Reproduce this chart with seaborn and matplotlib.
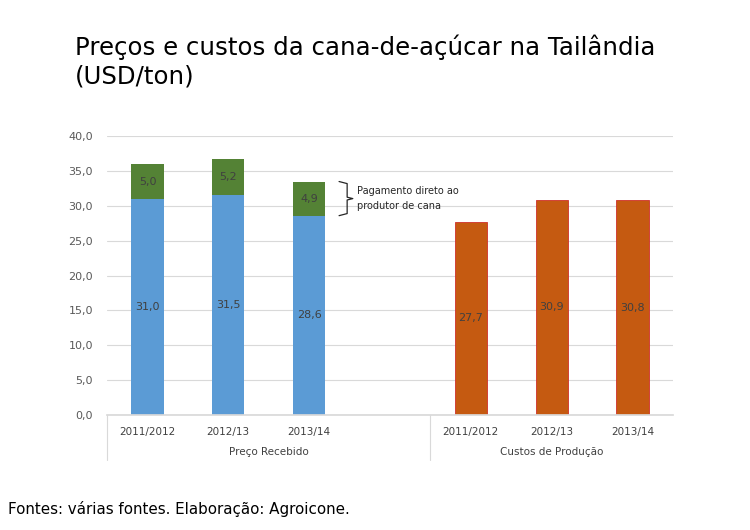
import numpy as np
import pandas as pd
import matplotlib
matplotlib.use("Agg")
import matplotlib.pyplot as plt
import matplotlib.transforms as mtransforms
import seaborn as sns

# data
anos = ["2011/2012", "2012/13", "2013/14"]
grupos = ["Preço Recebido", "Custos de Produção"]
preco_base = [31.0, 31.5, 28.6]
pagamento_direto = [5.0, 5.2, 4.9]
custos = [27.7, 30.9, 30.8]
y_ticks = [0, 5, 10, 15, 20, 25, 30, 35, 40]

azul = "#5B9BD5"
verde = "#548235"
laranja = "#C55A11"
texto = "#404040"

sns.set_theme(style="white")
plt.rcParams["font.family"] = ["DejaVu Sans"]

# category keys, with an empty slot after the first group
k_preco = [f"p_{a}" for a in anos]
k_custo = [f"c_{a}" for a in anos]
order = k_preco + ["gap"] + k_custo

total = [b + d for b, d in zip(preco_base, pagamento_direto)]
df_total = pd.DataFrame({"key": k_preco, "valor": total})
df_base = pd.DataFrame({"key": k_preco, "valor": preco_base})
df_custo = pd.DataFrame({"key": k_custo, "valor": custos})

fig = plt.figure(figsize=(7.5, 5.3), dpi=100)
ax = fig.add_axes([0.1427, 0.217, 0.7546, 0.526])

sns.barplot(data=df_total, x="key", y="valor", order=order, color=verde,
            saturation=1, width=0.4, errorbar=None, ax=ax, linewidth=0)
sns.barplot(data=df_base, x="key", y="valor", order=order, color=azul,
            saturation=1, width=0.4, errorbar=None, ax=ax, linewidth=0)
sns.barplot(data=df_custo, x="key", y="valor", order=order, color=laranja,
            saturation=1, width=0.4, errorbar=None, ax=ax,
            edgecolor="#D0302A", linewidth=0.6)

# value labels
for i, (b, d) in enumerate(zip(preco_base, pagamento_direto)):
    ax.text(i, b / 2, f"{b:.1f}".replace(".", ","), ha="center", va="center",
            fontsize=8, color=texto)
    ax.text(i, b + d / 2, f"{d:.1f}".replace(".", ","), ha="center", va="center",
            fontsize=8, color=texto)
for i, c in enumerate(custos):
    ax.text(order.index(k_custo[i]), c / 2, f"{c:.1f}".replace(".", ","),
            ha="center", va="center", fontsize=8, color=texto)

# axes styling
ax.set_ylim(0, 40)
ax.set_xlim(-0.5, len(order) - 0.5)
ax.set_yticks(y_ticks)
ax.set_yticklabels([f"{v:.1f}".replace(".", ",") for v in y_ticks],
                   fontsize=8, color="#595959")
ax.tick_params(axis="y", length=0, pad=10)
ax.yaxis.grid(True, color="#D9D9D9", linewidth=0.8)
ax.set_axisbelow(True)
for s in ["top", "right", "left"]:
    ax.spines[s].set_visible(False)
ax.spines["bottom"].set_color("#D9D9D9")
ax.set_xticks([])
ax.set_xlabel("")
ax.set_ylabel("")

# multi-level category axis
trans = mtransforms.blended_transform_factory(ax.transData, ax.transAxes)
for i, a in enumerate(anos):
    ax.text(order.index(k_preco[i]), -0.061, a, transform=trans, ha="center",
            va="center", fontsize=7.5, color=texto)
    ax.text(order.index(k_custo[i]), -0.061, a, transform=trans, ha="center",
            va="center", fontsize=7.5, color=texto)
sep = order.index("gap") + 0.5
ax.text((-0.5 + sep) / 2, -0.133, grupos[0], transform=trans, ha="center",
        va="center", fontsize=7.5, color=texto)
ax.text((sep + len(order) - 0.5) / 2, -0.133, grupos[1], transform=trans,
        ha="center", va="center", fontsize=7.5, color=texto)
for xs in [-0.5, sep]:
    ax.plot([xs, xs], [0, -0.161], transform=trans, color="#D9D9D9",
            lw=0.8, clip_on=False)

# bracket for direct payment on the last price bar
lo, hi = preco_base[2], total[2]
mid = (lo + hi) / 2
x0, x1, x2 = 2.37, 2.47, 2.54
bx = [x0, x1, x1, x2, x1, x1, x0]
by = [hi, hi - 0.3, mid + 0.2, mid, mid - 0.2, lo + 0.3, lo]
ax.plot(bx, by, color="#262626", lw=0.9, clip_on=False)
ax.text(2.59, mid, "Pagamento direto ao\nprodutor de cana", ha="left",
        va="center", fontsize=7, color="#262626", linespacing=1.6)

fig.text(0.1, 0.935, "Preços e custos da cana-de-açúcar na Tailândia\n(USD/ton)",
         ha="left", va="top", fontsize=17.6, color="black", linespacing=1.25)
fig.text(0.011, 0.04, "Fontes: várias fontes. Elaboração: Agroicone.",
         ha="left", va="center", fontsize=10.9, color="black")

fig.savefig("out.png", dpi=100)
plt.close(fig)
